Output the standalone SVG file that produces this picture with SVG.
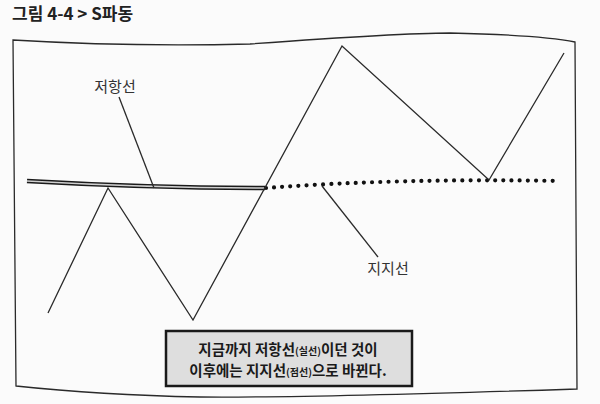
<svg xmlns="http://www.w3.org/2000/svg" width="600" height="404" viewBox="0 0 600 404">
<style>
.kr{font-family:"Noto Sans CJK KR","Noto Sans",sans-serif}
.ln{fill:none;stroke:#2a2a2a;stroke-width:1.3;stroke-linejoin:miter}
.lbl{font-size:15px;fill:#333}
.box{font-size:14.5px;font-weight:bold;fill:#1a1a1a}
.sm{font-size:10px}
</style>
<rect width="600" height="404" fill="#fbfbfb"/>
<g id="title"><text class="kr" x="12" y="20" font-size="17" font-weight="bold" fill="#222">그림 4-4 &gt; S파동</text></g>
<g id="frame"><path class="ln" d="M13,40 Q130,47 250,44 Q400,33 450,33 Q540,35 575,42 L577,389 Q300,398 200,397 Q100,395 16,386 Z"/></g>
<g id="resistance">
<path d="M27,181 Q150,188 265,188" fill="none" stroke="#1a1a1a" stroke-width="4.5"/>
<path d="M27,181 Q150,188 265,188" fill="none" stroke="#d0d0d0" stroke-width="1.3"/>
</g>
<g id="support"><path d="M266,188 Q400,178 560,181" fill="none" stroke="#111" stroke-width="4.2" stroke-linecap="round" stroke-dasharray="0 8.2"/></g>
<g id="wave"><polyline class="ln" points="48,313 108,188 193,320 342,46 489,180 564,53"/></g>
<g id="connectors">
<line class="ln" x1="119" y1="97" x2="154" y2="188"/>
<line class="ln" x1="322" y1="186" x2="378" y2="257"/>
</g>
<g id="label-resistance"><text class="kr lbl" x="115" y="92" text-anchor="middle">저항선</text></g>
<g id="label-support"><text class="kr lbl" x="388" y="274" text-anchor="middle">지지선</text></g>
<g id="note">
<rect x="166" y="331" width="246" height="55" fill="#dedede" stroke="#1a1a1a" stroke-width="2.5"/>
<text class="kr box" x="288" y="355" text-anchor="middle">지금까지 저항선<tspan class="sm">(실선)</tspan>이던 것이</text>
<text class="kr box" x="288" y="376" text-anchor="middle">이후에는 지지선<tspan class="sm">(점선)</tspan>으로 바뀐다.</text>
</g>
</svg>
